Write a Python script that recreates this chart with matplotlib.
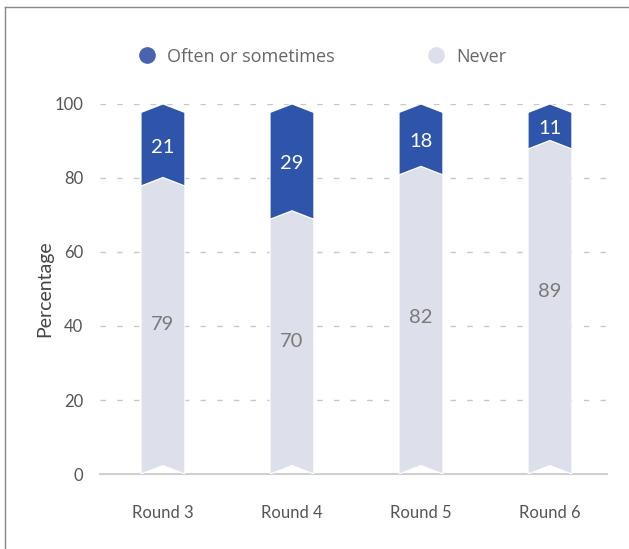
import matplotlib.pyplot as plt
from matplotlib.patches import Polygon
from matplotlib.lines import Line2D

rounds = ['Round 3', 'Round 4', 'Round 5', 'Round 6']
often = [21, 29, 18, 11]
never = [79, 70, 82, 89]
# label nudges (data units) as placed in the original
never_label_shift = [0.8, 0.7, 1.4, 4.7]
often_label_shift = -1.2

dark = '#2E55A9'
light = '#DDDFEB'
plt.rcParams['font.family'] = ['Lato', 'DejaVu Sans']

fig = plt.figure(figsize=(6.29, 5.49), dpi=100)
ax = fig.add_axes([0.159, 0.1366, 0.806, 0.674])

# figure frame (left and top edges only)
fig.add_artist(Line2D([4.5 / 629, 4.5 / 629], [0, 1 - 7 / 549], color='#888888', lw=1, transform=fig.transFigure))
fig.add_artist(Line2D([4.5 / 629, 1], [1 - 7 / 549, 1 - 7 / 549], color='#888888', lw=1, transform=fig.transFigure))

w = 0.34
d = 2.3  # chevron depth in data units


def chevron(x, lo, hi, lo_off, hi_off):
    # bottom edge has a notch, top edge has a point
    l, r = x - w / 2, x + w / 2
    pts = [(l, lo + lo_off), (x, lo + lo_off + d), (r, lo + lo_off),
           (r, hi + hi_off - d), (x, hi + hi_off), (l, hi + hi_off - d)]
    return Polygon(pts, closed=True, zorder=3)


for i, (o, n) in enumerate(zip(often, never)):
    top = 100  # shares are rounded; the stack always closes at 100
    p1 = chevron(i, 0, n, 0, d / 2)
    p1.set_facecolor(light)
    p1.set_edgecolor('white')
    p1.set_linewidth(0.8)
    ax.add_patch(p1)
    p2 = chevron(i, n, top, -d / 2, 0)
    p2.set_facecolor(dark)
    p2.set_edgecolor('white')
    p2.set_linewidth(0.8)
    ax.add_patch(p2)
    ax.text(i, n / 2 + never_label_shift[i], str(n), ha='center', va='center', fontsize=14.5,
            color='#7a7a7a', zorder=4)
    ax.text(i, (n + top) / 2 + often_label_shift, str(o), ha='center', va='center', fontsize=14.5,
            color='white', zorder=4)

ax.set_xlim(-0.488, 3.442)
ax.set_ylim(0, 100)
ax.set_xticks(range(len(rounds)))
ax.set_xticklabels(rounds, fontsize=12, color='#555555')
ax.set_yticks([0, 20, 40, 60, 80, 100])
ax.tick_params(axis='y', length=0, pad=12, labelsize=12, labelcolor='#555555')
ax.tick_params(axis='x', length=0, pad=22)
for y in [20, 40, 60, 80, 100]:
    ax.axhline(y, color='#c8c8c8', lw=1, dashes=(4, 8), zorder=1)
for s in ['top', 'right', 'left']:
    ax.spines[s].set_visible(False)
ax.spines['bottom'].set_color('#d0d0d0')
ax.spines['bottom'].set_linewidth(1.5)
ax.set_ylabel('Percentage', fontsize=14, color='#444444', labelpad=1)

handles = [Line2D([], [], marker='o', ls='', markersize=11, color='#4A63B0'),
           Line2D([], [], marker='o', ls='', markersize=11, color=light)]
fig.legend(handles, ['Often or sometimes', 'Never'], loc='center', bbox_to_anchor=(0.505, 0.897),
           ncol=2, frameon=False, prop={'family': ['Open Sans', 'DejaVu Sans'], 'size': 13},
           labelcolor='#666666', handletextpad=0.1, columnspacing=4.6)

fig.savefig('out.png', dpi=100)
